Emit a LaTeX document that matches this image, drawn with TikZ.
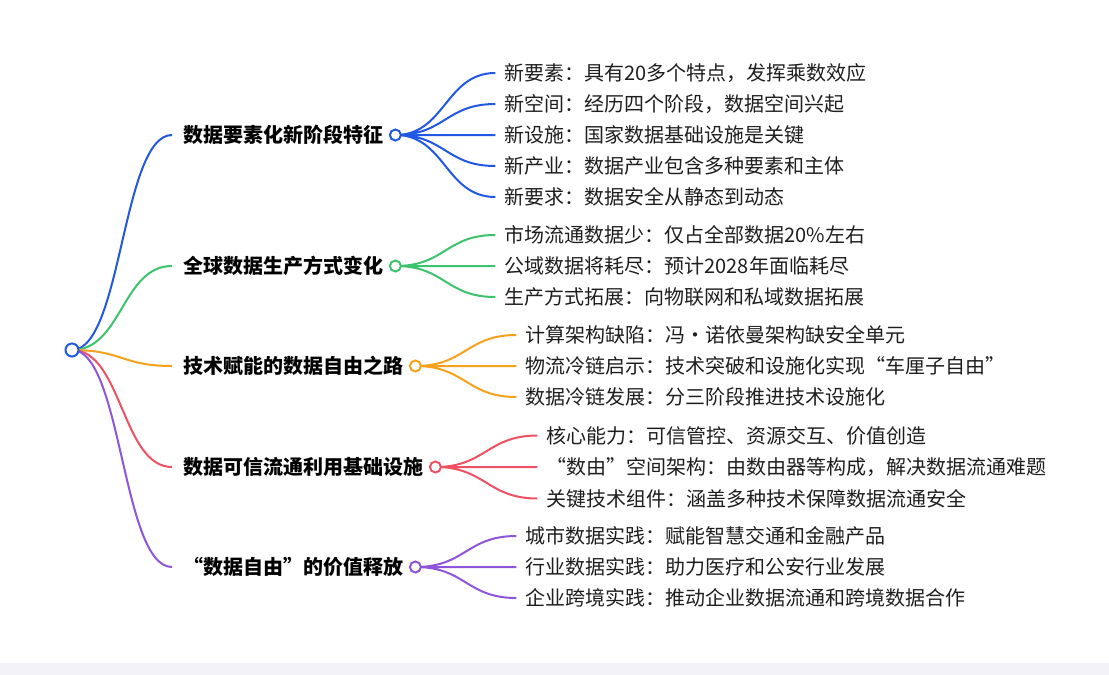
\documentclass[tikz,border=0pt]{standalone}
\usepackage{fontspec}
\setmainfont{Noto Sans CJK SC}
\usepackage{tikz}
\usetikzlibrary{positioning, backgrounds}
\definecolor{mmblue}{HTML}{2157E2}
\definecolor{mmgreen}{HTML}{3DC36D}
\definecolor{mmorange}{HTML}{F5A11C}
\definecolor{mmred}{HTML}{EE5262}
\definecolor{mmpurple}{HTML}{8E54DA}
\definecolor{mmtext}{HTML}{1E1E1E}
\definecolor{mmstrip}{HTML}{F3F2F8}

\begin{document}
\begin{tikzpicture}[
  x=1pt, y=-1pt,
  font=\fontsize{20pt}{24pt}\selectfont,
  mmdot/.style={
    circle, line width=2pt, fill=white,
    minimum size=11pt, inner sep=0pt,
  },
  mmroot/.style={mmdot, minimum size=13pt},
  mmbranch/.style={
    anchor=west, inner xsep=11pt, inner ysep=0pt,
    font=\fontsize{20pt}{24pt}\selectfont\bfseries, text=black,
  },
  mmleaf/.style={
    anchor=west, inner xsep=9pt, inner ysep=0pt, text=mmtext,
  },
  mmlink/.style={
    line width=2pt,
    to path={.. controls +(50,0) and +(-50,0) .. (\tikztotarget)},
  },
]
\useasboundingbox (0,0) rectangle (1109,675);
\fill[mmstrip] (0,663) rectangle (1109,675);

\node[mmroot, draw=mmblue] (root) at (72,350) {};

% first branch
\node[mmbranch] (ba) at (172,135) {数据要素化新阶段特征};
\node[mmdot, draw=mmblue] (da) at ([xshift=1pt]ba.east) {};
\node[mmleaf] (a3) at ([xshift=100pt]da.center) {新设施：国家数据基础设施是关键};
\node[mmleaf] (a2) at ([yshift=31pt]a3.west) {新空间：经历四个阶段，数据空间兴起};
\node[mmleaf] (a1) at ([yshift=31pt]a2.west) {新要素：具有20多个特点，发挥乘数效应};
\node[mmleaf] (a4) at ([yshift=-31pt]a3.west) {新产业：数据产业包含多种要素和主体};
\node[mmleaf] (a5) at ([yshift=-31pt]a4.west) {新要求：数据安全从静态到动态};

% second branch
\node[mmbranch] (bb) at (172,266) {全球数据生产方式变化};
\node[mmdot, draw=mmgreen] (db) at ([xshift=1pt]bb.east) {};
\node[mmleaf] (b2) at ([xshift=100pt]db.center) {公域数据将耗尽：预计2028年面临耗尽};
\node[mmleaf] (b1) at ([yshift=31pt]b2.west) {市场流通数据少：仅占全部数据20\%左右};
\node[mmleaf] (b3) at ([yshift=-31pt]b2.west) {生产方式拓展：向物联网和私域数据拓展};

% third branch
\node[mmbranch] (bc) at (172,366) {技术赋能的数据自由之路};
\node[mmdot, draw=mmorange] (dc) at ([xshift=1pt]bc.east) {};
\node[mmleaf] (c2) at ([xshift=101pt]dc.center) {物流冷链启示：技术突破和设施化实现“车厘子自由”};
\node[mmleaf] (c1) at ([yshift=31pt]c2.west) {计算架构缺陷：冯・诺依曼架构缺安全单元};
\node[mmleaf] (c3) at ([yshift=-31pt]c2.west) {数据冷链发展：分三阶段推进技术设施化};

% fourth branch
\node[mmbranch] (bd) at (172,467) {数据可信流通利用基础设施};
\node[mmdot, draw=mmred] (dd) at ([xshift=1pt]bd.east) {};
\node[mmleaf] (d2) at ([xshift=102pt]dd.center) {“数由”空间架构：由数由器等构成，解决数据流通难题};
\node[mmleaf] (d1) at ([yshift=31.5pt]d2.west) {核心能力：可信管控、资源交互、价值创造};
\node[mmleaf] (d3) at ([yshift=-31.5pt]d2.west) {关键技术组件：涵盖多种技术保障数据流通安全};

% fifth branch
\node[mmbranch] (be) at (172,567) {“数据自由”的价值释放};
\node[mmdot, draw=mmpurple] (de) at ([xshift=1pt]be.east) {};
\node[mmleaf] (e2) at ([xshift=101pt]de.center) {行业数据实践：助力医疗和公安行业发展};
\node[mmleaf] (e1) at ([yshift=31pt]e2.west) {城市数据实践：赋能智慧交通和金融产品};
\node[mmleaf] (e3) at ([yshift=-31pt]e2.west) {企业跨境实践：推动企业数据流通和跨境数据合作};

\begin{scope}[on background layer]
  \draw[mmlink, mmblue]   (root.center) to (ba.west);
  \draw[mmlink, mmgreen]  (root.center) to (bb.west);
  \draw[mmlink, mmorange] (root.center) to (bc.west);
  \draw[mmlink, mmred]    (root.center) to (bd.west);
  \draw[mmlink, mmpurple] (root.center) to (be.west);
  \draw[mmlink, mmblue] (da.center) to (a1.west) (da.center) to (a2.west)
    (da.center) to (a3.west) (da.center) to (a4.west) (da.center) to (a5.west);
  \draw[mmlink, mmgreen] (db.center) to (b1.west) (db.center) to (b2.west)
    (db.center) to (b3.west);
  \draw[mmlink, mmorange] (dc.center) to (c1.west) (dc.center) to (c2.west)
    (dc.center) to (c3.west);
  \draw[mmlink, mmred] (dd.center) to (d1.west) (dd.center) to (d2.west)
    (dd.center) to (d3.west);
  \draw[mmlink, mmpurple] (de.center) to (e1.west) (de.center) to (e2.west)
    (de.center) to (e3.west);
\end{scope}
\end{tikzpicture}
\end{document}
